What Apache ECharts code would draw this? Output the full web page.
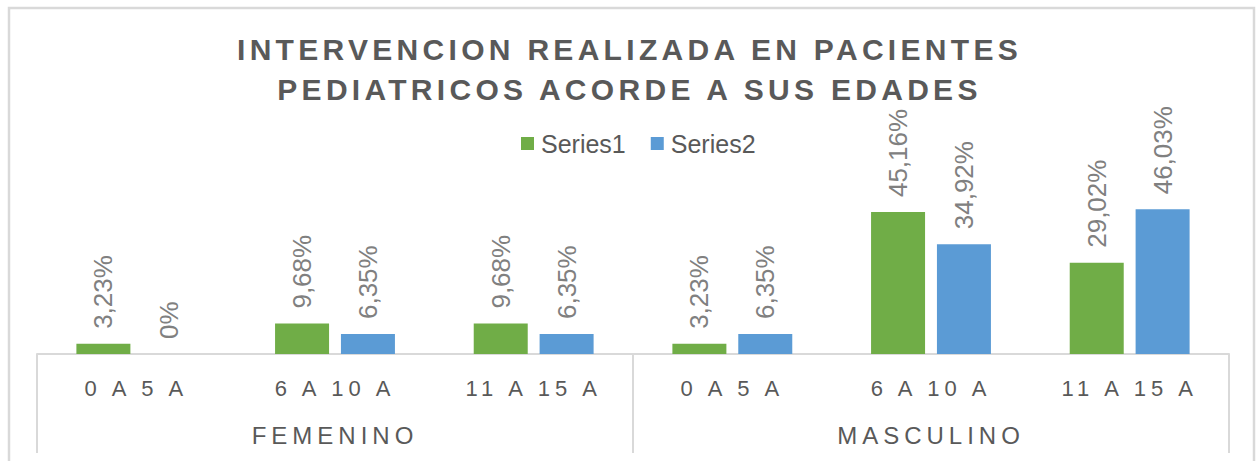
<!DOCTYPE html>
<html>
<head>
<meta charset="utf-8">
<script src="https://cdn.jsdelivr.net/npm/echarts@6/dist/echarts.min.js"></script>
<style>
  html, body { margin: 0; padding: 0; background: #ffffff; }
  #chart { width: 1259px; height: 461px; }
  /* letter spacing for spaced texts (title and category labels) */
  #chart text[style*="30px"] { letter-spacing: 4.3px; }
  #chart text[style*="22px"] { letter-spacing: 5px; }
  #chart text[style*="24px"] { letter-spacing: 5px; }
</style>
</head>
<body>
<div id="chart"></div>
<script>
const titleText = 'INTERVENCION REALIZADA EN PACIENTES\nPEDIATRICOS ACORDE A SUS EDADES';
const ageGroups = ['0 A 5 A', '6 A 10 A', '11 A 15 A', '0 A 5 A', '6 A 10 A', '11 A 15 A'];
const sexGroups = ['FEMENINO', 'MASCULINO'];
const seriesNames = ['Series1', 'Series2'];
const series1 = [3.23, 9.68, 9.68, 3.23, 45.16, 29.02];
const series2 = [0, 6.35, 6.35, 6.35, 34.92, 46.03];

const FONT = 'Liberation Sans';
const fmt = function (p) {
  const v = p.value;
  return v === 0 ? '0%' : v.toFixed(2).replace('.', ',') + '%';
};
const labelCfg = {
  show: true,
  position: 'top',
  rotate: 90,
  align: 'left',
  verticalAlign: 'middle',
  distance: 15,
  fontSize: 26,
  fontFamily: FONT,
  color: '#808080',
  formatter: fmt
};

const chart = echarts.init(document.getElementById('chart'), null, { renderer: 'svg' });
chart.setOption({
  animation: false,
  backgroundColor: '#ffffff',
  title: {
    text: titleText,
    left: 'center',
    top: 24,
    textStyle: {
      fontSize: 30,
      fontWeight: 'bold',
      fontFamily: FONT,
      color: '#595959',
      lineHeight: 40
    }
  },
  legend: {
    data: seriesNames,
    left: 516,
    top: 126,
    icon: 'rect',
    itemWidth: 13,
    itemHeight: 13,
    itemGap: 25,
    textStyle: { fontSize: 25, fontFamily: FONT, color: '#595959', padding: [0, 0, 0, 2] }
  },
  graphic: [{
    type: 'rect',
    shape: { x: 9, y: 8, width: 1245, height: 480 },
    style: { fill: 'none', stroke: '#d9d9d9', lineWidth: 2.5 },
    silent: true,
    z: -10
  }],
  grid: { left: 37, right: 30, top: 165.4, bottom: 107 },
  xAxis: [{
    type: 'category',
    data: ageGroups,
    position: 'bottom',
    axisLine: { show: true, lineStyle: { color: '#d9d9d9', width: 2 } },
    axisTick: { show: false },
    axisLabel: { margin: 23, fontSize: 22, fontFamily: FONT, color: '#595959', interval: 0 },
    splitLine: { show: false }
  }, {
    type: 'category',
    data: sexGroups,
    position: 'bottom',
    axisLine: { show: false },
    axisTick: { show: true, length: 99, interval: 0, lineStyle: { color: '#d9d9d9', width: 2 } },
    axisLabel: { margin: 69, fontSize: 24, fontFamily: FONT, color: '#595959', interval: 0 },
    splitLine: { show: false }
  }],
  yAxis: {
    type: 'value',
    min: 0,
    max: 60,
    show: false,
    splitLine: { show: false }
  },
  series: [{
    name: seriesNames[0],
    type: 'bar',
    xAxisIndex: 0,
    data: series1,
    barWidth: 54,
    barGap: '22%',
    itemStyle: { color: '#70ad47' },
    label: labelCfg
  }, {
    name: seriesNames[1],
    type: 'bar',
    xAxisIndex: 0,
    data: series2,
    barWidth: 54,
    barGap: '22%',
    itemStyle: { color: '#5b9bd5' },
    label: labelCfg
  }]
});
</script>
</body>
</html>
